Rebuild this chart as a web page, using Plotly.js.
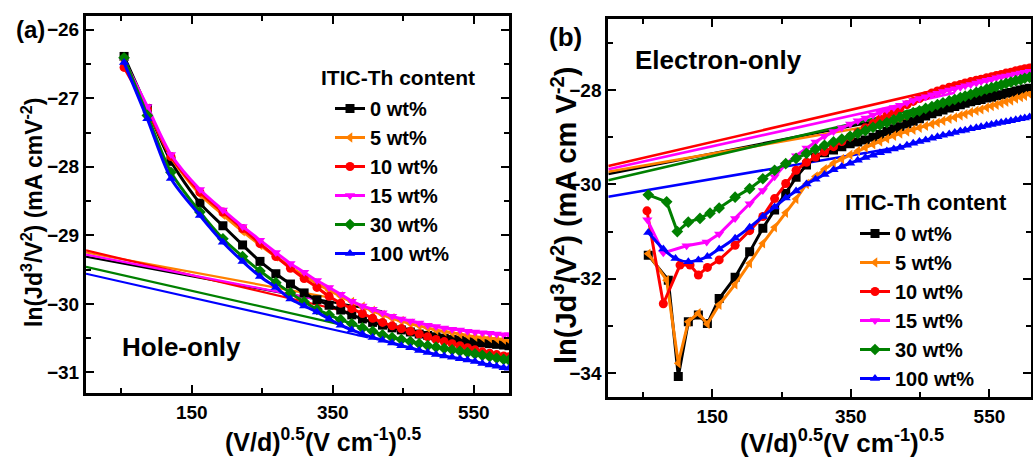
<!DOCTYPE html>
<html>
<head>
<meta charset="utf-8">
<script src="https://cdn.plot.ly/plotly-3.0.1.min.js"></script>
<style>html,body{margin:0;padding:0;background:#fff;}#chart{width:1033px;height:457px;}</style>
</head>
<body>
<div id="chart"></div>
<script>
// ---------- data ----------
const seriesNames = ['0 wt%', '5 wt%', '10 wt%', '15 wt%', '30 wt%', '100 wt%'];
const seriesColors = ['#000000', '#FF8000', '#FF0000', '#FF00FF', '#008000', '#0000FF'];
const seriesSymbols = ['square', 'triangle-left', 'circle', 'triangle-down', 'diamond', 'triangle-up'];

// (a) Hole-only
const xHole = [54,87,120.5,161.6,194.2,222.1,246.8,269.3,290.0,309.4,327.6,344.8,361.3,377.0,392.1,406.6,420.6,434.2,447.3,460.1,472.6,484.7,496.5,508.1,519.3,530.4,541.2,551.8,562.2,572.5,582.5,592.4,600];
const hole0   = [-26.39,-27.15,-27.92,-28.53,-28.86,-29.14,-29.38,-29.56,-29.71,-29.84,-29.94,-30.02,-30.09,-30.16,-30.22,-30.27,-30.31,-30.35,-30.38,-30.41,-30.44,-30.46,-30.48,-30.50,-30.52,-30.53,-30.55,-30.56,-30.57,-30.58,-30.59,-30.60,-30.61];
const hole5   = [-26.45,-27.15,-27.86,-28.40,-28.70,-28.94,-29.14,-29.31,-29.46,-29.59,-29.70,-29.80,-29.89,-29.97,-30.04,-30.10,-30.16,-30.21,-30.25,-30.29,-30.32,-30.35,-30.38,-30.40,-30.42,-30.44,-30.46,-30.48,-30.49,-30.50,-30.51,-30.52,-30.53];
const hole10  = [-26.55,-27.16,-27.85,-28.37,-28.66,-28.90,-29.12,-29.31,-29.48,-29.63,-29.76,-29.89,-29.99,-30.07,-30.14,-30.21,-30.27,-30.32,-30.36,-30.40,-30.44,-30.48,-30.52,-30.55,-30.58,-30.61,-30.64,-30.67,-30.70,-30.72,-30.74,-30.76,-30.77];
const hole15  = [-26.45,-27.12,-27.82,-28.33,-28.63,-28.87,-29.07,-29.25,-29.41,-29.54,-29.66,-29.76,-29.86,-29.96,-30.03,-30.08,-30.13,-30.18,-30.22,-30.25,-30.28,-30.31,-30.33,-30.35,-30.37,-30.38,-30.40,-30.41,-30.42,-30.43,-30.44,-30.45,-30.45];
const hole30  = [-26.41,-27.25,-28.08,-28.66,-29.05,-29.31,-29.52,-29.69,-29.84,-29.97,-30.08,-30.16,-30.23,-30.29,-30.35,-30.40,-30.45,-30.49,-30.52,-30.55,-30.58,-30.61,-30.63,-30.65,-30.67,-30.69,-30.71,-30.73,-30.75,-30.77,-30.79,-30.81,-30.82];
const hole100 = [-26.48,-27.30,-28.17,-28.71,-29.10,-29.38,-29.60,-29.76,-29.93,-30.03,-30.12,-30.22,-30.31,-30.38,-30.44,-30.49,-30.53,-30.57,-30.61,-30.64,-30.68,-30.71,-30.74,-30.76,-30.78,-30.80,-30.82,-30.84,-30.87,-30.89,-30.91,-30.93,-30.94];
// fitted lines (a): start at x=0
const holeFitY0   = [-29.31, -29.25, -29.22, -29.28, -29.46, -29.56];
const holeFitXEnd = [420, 350, 380, 320, 365, 400];
const holeFitYEnd = [-30.11, -29.915, -30.14, -29.92, -30.31, -30.49];

// (b) Electron-only
const xElecGrid = [160,183,204,223,240,256,271,286,299,312,325,337,349,360,371,382,392,402,412,421,431,440,449,458,467,475,483,492,500,508,515,523,531,538,546,553,560,567,574,581,588,595,601,608];
const xElecStart0   = [57.7,86.6,101,115.5,130,143];
const elecStart0    = [-31.50,-32.03,-34.07,-32.91,-32.77,-32.95];
const xElecStart5   = [57.7,84.2,101,115.5,130,143];
const elecStart5    = [-31.47,-32.03,-33.79,-32.91,-32.73,-32.96];
const xElecStart10  = [55.8,79.4,103.5,118,130,143];
const elecStart10   = [-30.56,-32.53,-31.71,-31.71,-31.92,-31.76];
const xElecStart15  = [56.3,79.4,113,142];
const elecStart15   = [-30.75,-31.45,-31.30,-31.22];
const xElecStart30  = [57.7,84.2,99.6,115.4,132.3,146.8];
const elecStart30   = [-30.22,-30.37,-31.0,-30.8,-30.72,-30.61];
const xElecStart100 = [57.7,79.4,97,115.5,130,143];
const elecStart100  = [-31.02,-31.37,-31.57,-31.64,-31.6,-31.53];
const elec0   = [-32.42,-31.97,-31.43,-30.93,-30.54,-30.19,-29.85,-29.59,-29.42,-29.33,-29.27,-29.20,-29.14,-29.10,-29.06,-29.00,-28.94,-28.88,-28.82,-28.78,-28.72,-28.66,-28.61,-28.55,-28.50,-28.46,-28.42,-28.38,-28.35,-28.31,-28.28,-28.25,-28.22,-28.20,-28.17,-28.15,-28.12,-28.10,-28.07,-28.05,-28.02,-28.00,-27.98,-27.96];
const elec5   = [-32.55,-32.12,-31.67,-31.25,-30.91,-30.60,-30.31,-29.99,-29.83,-29.68,-29.55,-29.46,-29.37,-29.29,-29.22,-29.15,-29.09,-29.03,-28.97,-28.92,-28.88,-28.84,-28.80,-28.76,-28.72,-28.69,-28.65,-28.61,-28.58,-28.54,-28.51,-28.47,-28.44,-28.41,-28.37,-28.34,-28.31,-28.28,-28.25,-28.22,-28.18,-28.15,-28.12,-28.08];
const elec10  = [-31.60,-31.29,-30.98,-30.68,-30.30,-29.98,-29.70,-29.53,-29.42,-29.31,-29.20,-29.09,-28.99,-28.90,-28.80,-28.71,-28.62,-28.54,-28.46,-28.38,-28.31,-28.24,-28.18,-28.12,-28.06,-28.02,-27.98,-27.94,-27.91,-27.88,-27.85,-27.82,-27.79,-27.77,-27.74,-27.72,-27.69,-27.67,-27.64,-27.62,-27.59,-27.57,-27.55,-27.53];
const elec15  = [-31.05,-30.72,-30.41,-30.13,-29.84,-29.57,-29.39,-29.23,-29.10,-28.98,-28.88,-28.80,-28.72,-28.65,-28.59,-28.53,-28.47,-28.42,-28.37,-28.32,-28.27,-28.22,-28.18,-28.14,-28.10,-28.07,-28.03,-28.00,-27.97,-27.94,-27.91,-27.88,-27.85,-27.82,-27.79,-27.77,-27.74,-27.72,-27.70,-27.68,-27.66,-27.64,-27.62,-27.60];
const elec30  = [-30.50,-30.27,-30.09,-29.88,-29.70,-29.56,-29.45,-29.34,-29.25,-29.17,-29.10,-29.04,-28.98,-28.92,-28.86,-28.79,-28.74,-28.69,-28.63,-28.58,-28.53,-28.48,-28.44,-28.39,-28.35,-28.31,-28.27,-28.23,-28.20,-28.16,-28.13,-28.09,-28.05,-28.02,-27.98,-27.95,-27.92,-27.89,-27.86,-27.83,-27.80,-27.78,-27.75,-27.73];
const elec100 = [-31.37,-31.14,-30.91,-30.68,-30.48,-30.29,-30.14,-29.99,-29.89,-29.79,-29.69,-29.62,-29.55,-29.49,-29.43,-29.38,-29.33,-29.29,-29.25,-29.22,-29.17,-29.13,-29.09,-29.06,-29.02,-28.99,-28.96,-28.93,-28.90,-28.87,-28.85,-28.82,-28.80,-28.78,-28.75,-28.73,-28.71,-28.69,-28.67,-28.65,-28.63,-28.61,-28.59,-28.57];
// fitted lines (b): start at x=0
const elecFitY0   = [-29.78, -29.73, -29.61, -29.68, -29.91, -30.26];
const elecFitXEnd = [610, 470, 610, 500, 560, 430];
const elecFitYEnd = [-28.01, -28.53, -27.536, -28.055, -28.01, -29.185];

const legendTitle = 'ITIC-Th content';

// ---------- build traces ----------
const holeY = [hole0, hole5, hole10, hole15, hole30, hole100];
const elecStartX = [xElecStart0, xElecStart5, xElecStart10, xElecStart15, xElecStart30, xElecStart100];
const elecStartY = [elecStart0, elecStart5, elecStart10, elecStart15, elecStart30, elecStart100];
const elecY = [elec0, elec5, elec10, elec15, elec30, elec100];

const traces = [];
for (let i = 0; i < 6; i++) {
  traces.push({x: [0, holeFitXEnd[i]], y: [holeFitY0[i], holeFitYEnd[i]], xaxis: 'x', yaxis: 'y',
    mode: 'lines', line: {color: seriesColors[i], width: 2.2}, showlegend: false, hoverinfo: 'skip'});
  traces.push({x: [0, elecFitXEnd[i]], y: [elecFitY0[i], elecFitYEnd[i]], xaxis: 'x2', yaxis: 'y2',
    mode: 'lines', line: {color: seriesColors[i], width: 2.6}, showlegend: false, hoverinfo: 'skip'});
}
for (let i = 0; i < 6; i++) {
  traces.push({x: xHole, y: holeY[i], xaxis: 'x', yaxis: 'y', name: seriesNames[i],
    mode: 'lines+markers', line: {color: seriesColors[i], width: 3, shape: 'spline', smoothing: 0.8},
    marker: {symbol: seriesSymbols[i], size: 9, color: seriesColors[i]}, legend: 'legend'});
}
for (let i = 0; i < 6; i++) {
  traces.push({x: elecStartX[i].concat(xElecGrid), y: elecStartY[i].concat(elecY[i]), xaxis: 'x2', yaxis: 'y2', name: seriesNames[i],
    mode: 'lines+markers', line: {color: seriesColors[i], width: 3, shape: i === 5 ? 'spline' : 'linear', smoothing: 0.7},
    marker: {symbol: seriesSymbols[i], size: 9, color: seriesColors[i]}, legend: 'legend2'});
}

// ---------- layout ----------
const W = 1033, H = 457;
const px = v => v / W, py = v => 1 - v / H;
const FONT = 'Liberation Sans, Arial, Helvetica, sans-serif';
const axisCommon = {
  showline: true, linecolor: '#000', linewidth: 3, mirror: 'ticks',
  ticks: 'inside', ticklen: 8, tickwidth: 2, tickcolor: '#000',
  showgrid: false, zeroline: false,
  tickfont: {family: FONT, size: 19, color: '#000', weight: 'bold'}
};
const minorCommon = {ticks: 'inside', ticklen: 5, tickwidth: 2, tickcolor: '#000', showgrid: false};
const ann = (text, x, y, size, opts) => Object.assign({
  text: text, xref: 'paper', yref: 'paper', x: px(x), y: py(y), showarrow: false,
  xanchor: 'center', yanchor: 'middle', font: {family: FONT, size: size, color: '#000', weight: 'bold'}
}, opts || {});

const layout = {
  width: W, height: H, margin: {l: 0, r: 0, t: 0, b: 0},
  paper_bgcolor: '#fff', plot_bgcolor: '#fff',
  font: {family: FONT, color: '#000', weight: 'bold'},
  xaxis: Object.assign({}, axisCommon, {domain: [px(86), px(509)], range: [0, 600], anchor: 'y',
    tick0: 150, dtick: 200, minor: Object.assign({dtick: 100, tick0: 50}, minorCommon)}),
  yaxis: Object.assign({}, axisCommon, {domain: [py(393), py(16)], range: [-31.3, -25.8], anchor: 'x',
    tick0: -26, dtick: 1, minor: Object.assign({dtick: 0.5}, minorCommon)}),
  xaxis2: Object.assign({}, axisCommon, {domain: [px(608.3), px(1031)], range: [0, 610], anchor: 'y2',
    tick0: 150, dtick: 200, minor: Object.assign({dtick: 100, tick0: 50}, minorCommon)}),
  yaxis2: Object.assign({}, axisCommon, {domain: [py(396.7), py(19.3)], range: [-34.5, -26.5], anchor: 'x2',
    tick0: -28, dtick: 2, minor: Object.assign({dtick: 1}, minorCommon)}),
  legend: {x: px(330), xanchor: 'left', y: py(89), yanchor: 'top', bgcolor: 'rgba(0,0,0,0)',
    font: {family: FONT, size: 20, color: '#000', weight: 'bold'}, itemwidth: 30, tracegroupgap: 0},
  legend2: {x: px(855), xanchor: 'left', y: py(214), yanchor: 'top', bgcolor: 'rgba(0,0,0,0)',
    font: {family: FONT, size: 20, color: '#000', weight: 'bold'}, itemwidth: 30, tracegroupgap: 0},
  annotations: [
    ann('(a)', 30, 29, 24),
    ann('(b)', 565, 37, 26),
    ann('Hole-only', 181, 347, 26),
    ann('Electron-only', 718, 60, 26),
    ann(legendTitle, 319, 77, 21, {xanchor: 'left'}),
    ann(legendTitle, 843, 203, 22, {xanchor: 'left'}),
    ann('(V/d)<sup>0.5</sup>(V cm<sup>-1</sup>)<sup>0.5</sup>', 323, 440, 25),
    ann('(V/d)<sup>0.5</sup>(V cm<sup>-1</sup>)<sup>0.5</sup>', 842, 441, 26),
    ann('ln(Jd<sup>3</sup>/V<sup>2</sup>) (mA cmV<sup>-2</sup>)', 32, 213, 23, {textangle: -90}),
    ann('ln(Jd<sup>3</sup>/V<sup>2</sup>) (mA cm V<sup>-2</sup>)', 564, 216, 29, {textangle: -90})
  ]
};

Plotly.newPlot('chart', traces, layout, {staticPlot: true, displayModeBar: false});
</script>
</body>
</html>
